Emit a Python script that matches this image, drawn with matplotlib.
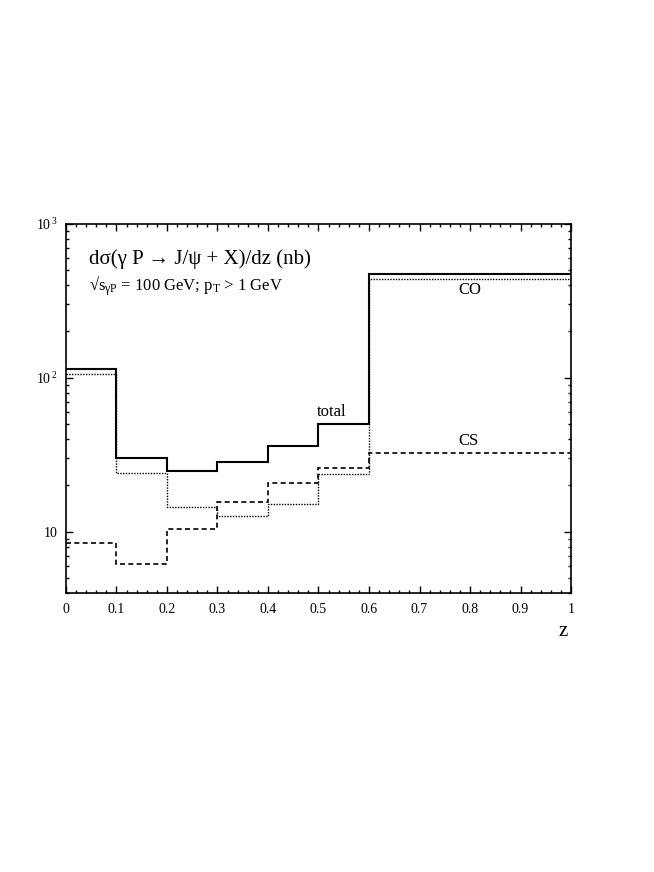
import numpy as np
import matplotlib
matplotlib.use('Agg')
import matplotlib.pyplot as plt
from matplotlib.ticker import FixedLocator, MultipleLocator, NullFormatter

plt.rcParams['font.family'] = ['Liberation Serif', 'DejaVu Serif']
plt.rcParams['mathtext.fontset'] = 'custom'
plt.rcParams['mathtext.rm'] = 'Liberation Serif'
plt.rcParams['mathtext.it'] = 'Liberation Serif'
plt.rcParams['mathtext.sf'] = 'Liberation Serif'

# bin edges in z and cross sections (nb) per bin
edges = [0.0, 0.1, 0.2, 0.3, 0.4, 0.5, 0.6, 1.0]
total = [113, 30.0, 24.9, 28.2, 36.0, 49.8, 471]
co = [105.7, 23.9, 14.5, 12.7, 15.1, 23.7, 440]
cs = [8.5, 6.14, 10.4, 15.5, 20.8, 25.9, 32.3]

ytick_vals = [10, 100, 1000]
ytick_labels = ['10', r'$10^{\,2}$', r'$10^{\,3}$']
xtick_vals = [0, 0.1, 0.2, 0.3, 0.4, 0.5, 0.6, 0.7, 0.8, 0.9, 1.0]
xtick_labels = ['0', '0.1', '0.2', '0.3', '0.4', '0.5', '0.6', '0.7', '0.8', '0.9', '1']

fig = plt.figure(figsize=(6.54, 8.72), dpi=100)
ax = fig.add_axes([0.1009, 0.32, 0.7722, 0.4235])

ax.stairs(total, edges, baseline=None, color='black', linewidth=1.5, linestyle='-')
ax.stairs(co, edges, baseline=None, color='black', linewidth=1.0, linestyle=(0, (1, 1)))
ax.stairs(cs, edges, baseline=None, color='black', linewidth=1.2, linestyle=(0, (3, 2)))

ax.set_yscale('log')
ax.set_xlim(0, 1)
ax.set_ylim(4, 1000)

# ticks
ax.xaxis.set_major_locator(FixedLocator(xtick_vals))
ax.set_xticklabels(xtick_labels)
ax.xaxis.set_minor_locator(MultipleLocator(0.02))
ax.yaxis.set_major_locator(FixedLocator(ytick_vals))
ax.set_yticklabels(ytick_labels)
minor_y = [m * d for d in [1, 10, 100] for m in range(2, 10) if 4 <= m * d <= 1000]
ax.yaxis.set_minor_locator(FixedLocator(minor_y))
ax.yaxis.set_minor_formatter(NullFormatter())
ax.tick_params(which='both', direction='in', top=True, right=True, labelsize=10, width=1.0)
ax.tick_params(which='major', length=5)
ax.tick_params(which='minor', length=2.5)
ax.tick_params(axis='x', which='major', pad=7)
ax.tick_params(axis='y', which='major', pad=6)
for s in ax.spines.values():
    s.set_linewidth(1.2)

# annotations
ax.text(0.045, 0.905, 'd\u03c3(\u03b3 P \u2192 J/\u03c8 + X)/dz (nb)',
        transform=ax.transAxes, fontsize=15, va='center', ha='left')
ax.text(0.045, 0.83, '\u221As$_{\\gamma\\mathrm{P}}$ = 100 GeV; p$_\\mathrm{T}$ > 1 GeV',
        transform=ax.transAxes, fontsize=12, va='center', ha='left')
ax.text(0.526, 60, 'total', fontsize=12, ha='center', va='center')
ax.text(0.797, 39, 'CS', fontsize=12, ha='center', va='center')
ax.text(0.80, 370, 'CO', fontsize=12, ha='center', va='center')
fig.text(563 / 654, 1 - 631 / 872, 'z', fontsize=15, ha='center', va='center')

fig.savefig('out.png', dpi=100)
